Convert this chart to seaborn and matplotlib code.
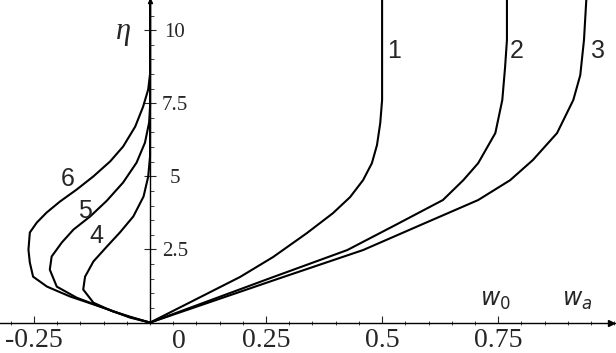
import numpy as np
import pandas as pd
import matplotlib.pyplot as plt
import seaborn as sns
from matplotlib.ticker import FixedLocator, FixedFormatter, MultipleLocator

# curves (w, eta)
w1 = [0, 0.194, 0.265, 0.338, 0.394, 0.431, 0.459, 0.478, 0.489, 0.496, 0.500, 0.500, 0.500]
eta1 = [0, 1.56, 2.24, 3.06, 3.74, 4.29, 4.87, 5.45, 6.07, 6.82, 7.61, 8.63, 11.03]
w2 = [0, 0.259, 0.425, 0.528, 0.631, 0.675, 0.707, 0.744, 0.759, 0.765, 0.769, 0.769]
eta2 = [0, 1.52, 2.48, 3.33, 4.19, 4.87, 5.45, 6.48, 7.61, 8.73, 9.66, 11.03]
w3 = [0, 0.280, 0.459, 0.582, 0.707, 0.776, 0.825, 0.877, 0.912, 0.927, 0.935, 0.940]
eta3 = [0, 1.52, 2.48, 3.33, 4.19, 4.87, 5.56, 6.48, 7.61, 8.46, 9.66, 11.03]
w4 = [0, -0.037, -0.080, -0.122, -0.144, -0.140, -0.122, -0.093, -0.065, -0.036, -0.014, -0.004, 0, 0]
eta4 = [0, 0.17, 0.38, 0.68, 1.13, 1.57, 2.09, 2.60, 3.08, 3.63, 4.31, 4.99, 5.68, 11.03]
w5 = [0, -0.043, -0.101, -0.158, -0.201, -0.216, -0.212, -0.190, -0.165, -0.129, -0.093,
      -0.058, -0.029, -0.011, -0.002, 0, 0]
eta5 = [0, 0.17, 0.51, 0.85, 1.23, 1.81, 2.26, 2.74, 3.18, 3.63, 4.17,
        4.79, 5.47, 6.15, 6.84, 7.38, 11.03]
w6 = [0, -0.043, -0.101, -0.172, -0.222, -0.252, -0.259, -0.262, -0.259, -0.244, -0.223,
      -0.194, -0.158, -0.122, -0.086, -0.058, -0.032, -0.015, -0.004, 0, 0]
eta6 = [0, 0.19, 0.51, 0.89, 1.23, 1.57, 2.05, 2.49, 3.08, 3.42, 3.76,
        4.14, 4.55, 5.0, 5.51, 6.02, 6.70, 7.38, 7.97, 8.5, 11.03]

curve_names = ['1', '2', '3', '4', '5', '6']
curve_w = [w1, w2, w3, w4, w5, w6]
curve_eta = [eta1, eta2, eta3, eta4, eta5, eta6]
label_pos = [(0.525, 9.3), (0.79, 9.3), (0.965, 9.3), (-0.115, 2.95), (-0.14, 3.8), (-0.177, 4.9)]

xticks = [-0.25, 0.25, 0.5, 0.75]
xticklabels = ['-0.25', '0.25', '0.5', '0.75']
yticks = [2.5, 5, 7.5, 10]
yticklabels = ['2.5', '5', '7.5', '10']

sns.set_style('white')
plt.rcParams['mathtext.fontset'] = 'dejavusans'
fig = plt.figure(figsize=(6.16, 3.53), dpi=100)
ax = fig.add_axes([0, 0, 1, 1])

for name, w, eta in zip(curve_names, curve_w, curve_eta):
    df = pd.DataFrame({'w': w, 'eta': eta})
    sns.lineplot(data=df, x='w', y='eta', sort=False, estimator=None,
                 color='black', lw=1.5, ax=ax)

ax.set_xlim(-0.3233, 1.004)
ax.set_ylim(-1.04, 11.03)
ax.set_xlabel('')
ax.set_ylabel('')

ax.spines['top'].set_visible(False)
ax.spines['left'].set_visible(False)
ax.spines['bottom'].set_position(('data', 0))
ax.spines['right'].set_position(('data', 0))
ax.spines['right'].set_bounds(0, 11.0)
for s in ['bottom', 'right']:
    ax.spines[s].set_linewidth(1.0)
    ax.spines[s].set_color('black')

ax.yaxis.tick_right()
ax.xaxis.set_major_locator(FixedLocator(xticks))
ax.xaxis.set_major_formatter(FixedFormatter(xticklabels))
ax.xaxis.set_minor_locator(MultipleLocator(0.05))
ax.yaxis.set_major_locator(FixedLocator(yticks))
ax.yaxis.set_major_formatter(FixedFormatter(yticklabels))
ax.yaxis.set_minor_locator(FixedLocator(np.arange(0.5, 10.6, 0.5)))

ax.tick_params(axis='x', which='major', direction='in', length=5, width=0.8,
               pad=4, labelsize=20, bottom=True)
ax.tick_params(axis='x', which='minor', direction='inout', length=3, width=0.6, bottom=True)
ax.tick_params(axis='y', which='major', direction='inout', length=8, width=0.8,
               pad=14, labelsize=15, right=True, left=False)
ax.tick_params(axis='y', which='minor', direction='out', length=3, width=0.6, right=True, left=False)
for lab in ax.get_xticklabels():
    lab.set_family('Liberation Serif')
for lab in ax.get_yticklabels():
    lab.set_family('Liberation Serif')
    lab.set_ha('center')

ax.text(0.062, -0.64, '0', family='Liberation Serif', fontsize=20, ha='center', va='center')

# arrow heads
ax.plot(0.993, 0, '>', color='black', ms=4, clip_on=False)
ax.plot(0, 10.98, '^', color='black', ms=3, clip_on=False)

ax.text(-0.058, 9.95, 'η', family='Liberation Serif', style='italic', fontsize=22,
        ha='center', va='center')
ax.text(0.745, 0.35, r'$\mathit{w}_{\mathit{0}}$', fontsize=17, ha='center', va='bottom')
ax.text(0.92, 0.35, r'$\mathit{w}_{\mathit{a}}$', fontsize=17, ha='center', va='bottom')

for name, (x, y) in zip(curve_names, label_pos):
    ax.text(x, y, name, family='Liberation Sans', fontsize=18, ha='center', va='center')

fig.savefig('out.png', dpi=100)
